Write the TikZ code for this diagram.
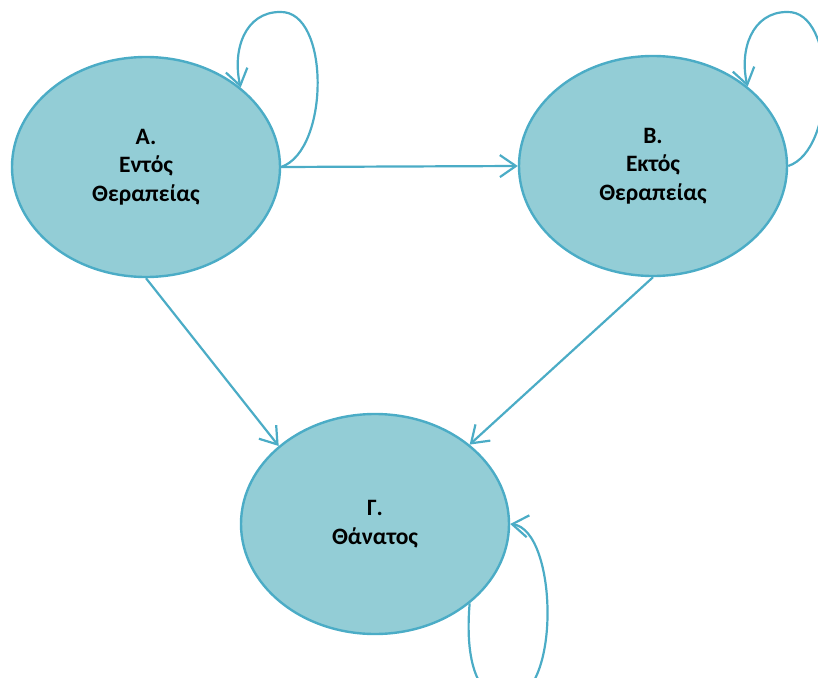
\documentclass[tikz,border=0pt]{standalone}
\usepackage{fontspec}
\setmainfont{Carlito}
\usetikzlibrary{shapes.geometric,arrows.meta}
\definecolor{stfill}{HTML}{93CDD6}
\definecolor{stline}{HTML}{4BACC6}
\tikzset{
  state/.style={ellipse, draw=stline, fill=stfill, line width=2.4pt,
    minimum width=268pt, minimum height=220pt, inner sep=0pt,
    align=center, font=\fontsize{23.5}{28.5}\selectfont\bfseries},
  conn/.style={draw=stline, line width=2.2pt,
    -{Straight Barb[length=16pt,width=22pt,line width=2.2pt]}}
}
\begin{document}
\begin{tikzpicture}[x=1pt,y=-1pt]
\useasboundingbox (0,0) rectangle (818,677);
\node[state] (A) at (146,167) {A.\\Εντός\\Θεραπείας};
\node[state] (B) at (653,166) {B.\\Εκτός\\Θεραπείας};
\node[state] (C) at (375,524) {Γ.\\Θάνατος};
\coordinate (At) at (280,12);
\coordinate (Bt) at (787,12);
\coordinate (Cb) at (507,700);
\draw[conn] (A.east) -- (B.west);
\draw[conn] (A.south) -- (C.141);
\draw[conn] (B.south) -- (C.40);
\draw[conn] (A.east) .. controls (330,150) and (330,10) .. (At)
  .. controls (245,12) and (232,50) .. (A.40);
\draw[conn] (B.east) .. controls (837,150) and (837,10) .. (Bt)
  .. controls (752,12) and (739,50) .. (B.40);
\draw[conn] (C.-40) .. controls (464,670) and (482,700) .. (Cb)
  .. controls (562,700) and (558,530) .. (C.east);
\end{tikzpicture}
\end{document}
